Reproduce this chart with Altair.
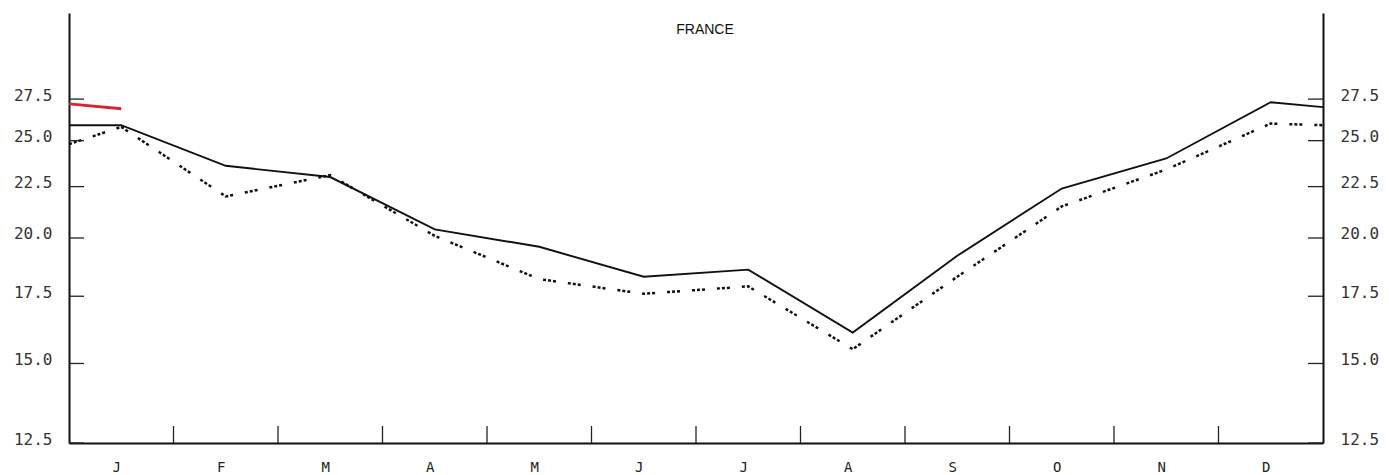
import altair as alt
import pandas as pd

# Month initials along the bottom axis
months = ["J", "F", "M", "A", "M", "J", "J", "A", "S", "O", "N", "D"]

# Monthly series (value at the left frame edge, the 12 months, value at the right frame edge)
solid_vals = [25.9, 25.9, 23.6, 23.0, 20.4, 19.6, 18.3, 18.6, 16.1, 19.2, 22.4, 24.0, 27.3, 27.0]
dotted_vals = [24.8, 25.8, 22.0, 23.1, 20.1, 18.2, 17.6, 17.9, 15.5, 18.3, 21.5, 23.4, 26.0, 25.9]
# Short red segment: left frame edge to January
red_vals = [27.2, 26.9]

# Axis tick values
y_ticks = [12.5, 15.0, 17.5, 20.0, 22.5, 25.0, 27.5]
month_bounds = list(range(1, 12))

W, H = 1254, 430
y_domain = [12.5, 33.5]

pos = [0.0] + [i + 0.5 for i in range(12)] + [12.0]
solid_df = pd.DataFrame({"m": pos, "v": solid_vals})
dotted_df = pd.DataFrame({"m": pos, "v": dotted_vals})
red_df = pd.DataFrame({"m": pos[:2], "v": red_vals})
bounds_df = pd.DataFrame({"m": month_bounds})
yticks_df = pd.DataFrame({"v": y_ticks})

FONT = "DejaVu Sans Mono"
NO_FRAME = alt.ViewBackground(stroke="transparent", strokeWidth=0)
x_scale = alt.Scale(domain=[0, 12], nice=False, zero=False)
y_scale = alt.Scale(type="log", domain=y_domain, nice=False, zero=False)

month_expr = " : ".join(
    f"floor(datum.value) == {i} ? '{m}'" for i, m in enumerate(months)
) + " : ''"

x_axis = alt.Axis(
    orient="bottom",
    values=[i + 0.5 for i in range(12)],
    labelExpr=month_expr,
    ticks=False, grid=False, title=None,
    domainColor="#111", domainWidth=2,
    labelFont=FONT, labelFontSize=14, labelColor="#222",
    labelPadding=17, labelOffset=-5, labelOverlap=False, labelFlush=False,
)

def y_axis(orient):
    return alt.Axis(
        orient=orient, values=y_ticks, format=".1f",
        ticks=False, grid=False, title=None,
        domainColor="#111", domainWidth=2,
        labelFont=FONT, labelFontSize=16, labelColor="#333",
        labelPadding=17, labelOffset=-4,
    )

# Inward tick marks on the month boundaries (this layer also carries the month axis)
x_ticks = alt.Chart(bounds_df).mark_rule(color="#222", strokeWidth=1.3).encode(
    x=alt.X("m:Q", scale=x_scale, axis=x_axis),
    y=alt.value(H - 17),
    y2=alt.value(H),
)

solid = alt.Chart(solid_df).mark_line(color="#111", strokeWidth=1.9).encode(
    x=alt.X("m:Q", scale=x_scale),
    y=alt.Y("v:Q", scale=y_scale, axis=y_axis("left")),
)

dotted = alt.Chart(dotted_df).mark_line(
    color="#111", strokeWidth=2.5, strokeDash=[3, 2, 3, 2, 3, 12]
).encode(
    x=alt.X("m:Q", scale=x_scale),
    y=alt.Y("v:Q", scale=y_scale, axis=y_axis("right")),
)

red = alt.Chart(red_df).mark_line(color="#d9262a", strokeWidth=3).encode(
    x=alt.X("m:Q", scale=x_scale),
    y=alt.Y("v:Q", scale=y_scale, axis=None),
)

# Inward tick marks on both value axes
left_ticks = alt.Chart(yticks_df).mark_rule(color="#222", strokeWidth=1.3).encode(
    y=alt.Y("v:Q", scale=y_scale, axis=None),
    x=alt.value(0),
    x2=alt.value(15),
)
right_ticks = alt.Chart(yticks_df).mark_rule(color="#222", strokeWidth=1.3).encode(
    y=alt.Y("v:Q", scale=y_scale, axis=None),
    x=alt.value(W - 15),
    x2=alt.value(W),
)

layers = [
    c.properties(view=NO_FRAME)
    for c in (x_ticks, solid, dotted, red, left_ticks, right_ticks)
]

chart = (
    alt.layer(*layers)
    .resolve_axis(y="independent")
    .properties(
        width=W,
        height=H,
        view=NO_FRAME,
        title=alt.TitleParams(
            "FRANCE", anchor="middle", font="Liberation Sans", fontSize=14,
            fontWeight="normal", color="#111", dx=9, dy=28,
        ),
        autosize=alt.AutoSizeParams(type="none"),
        padding={"left": 69, "top": 13, "right": 66, "bottom": 32},
    )
    .configure_view(strokeWidth=0, stroke="transparent")
    .configure(background="white")
)

chart.save("out.html", embed_options={"renderer": "svg", "actions": False})
